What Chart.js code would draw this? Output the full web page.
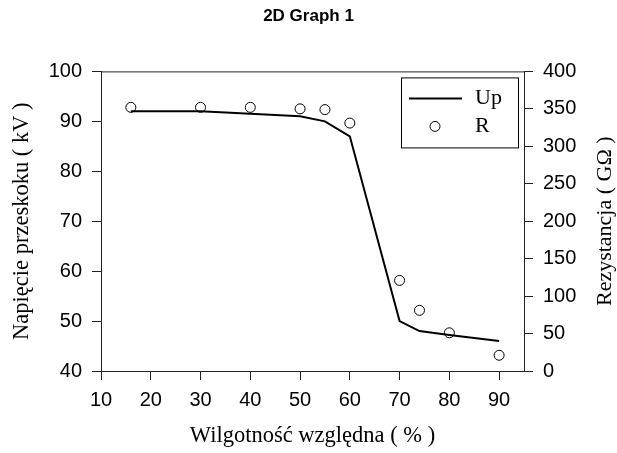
<!DOCTYPE html>
<html>
<head>
<meta charset="utf-8">
<script src="https://cdn.jsdelivr.net/npm/chart.js@4/dist/chart.umd.min.js"></script>
<style>
  html, body { margin: 0; padding: 0; background: #fff; }
  #wrap { width: 617px; height: 453px; }
</style>
</head>
<body>
<div id="wrap"><canvas id="graph"></canvas></div>
<script>
// dane
const wilgotnosc = [16, 30, 40, 50, 55, 60, 70, 74, 80, 90];
const napiecieUp = [92, 92, 91.5, 91, 90, 87, 50, 48, 47.2, 46];
const rezystancjaR = [352, 352, 352, 350, 349, 331, 121, 81, 51, 21];

const xTicks = [10, 20, 30, 40, 50, 60, 70, 80, 90];
const upTicks = [40, 50, 60, 70, 80, 90, 100];
const rTicks = [0, 50, 100, 150, 200, 250, 300, 350, 400];

const tytulPrawy = 'Rezystancja ( GΩ )';

const sans = 'Arial, "Liberation Sans", sans-serif';
const serif = '"Times New Roman", "Liberation Serif", serif';

// ramka u gory, legenda w ramce, tytul prawej osi (czytany od dolu)
const ramka = {
  id: 'ramka',
  afterDraw(chart) {
    const { ctx, chartArea: a } = chart;
    ctx.save();
    ctx.strokeStyle = '#222';
    ctx.lineWidth = 1;
    ctx.beginPath();
    ctx.moveTo(a.left, a.top + 0.5);
    ctx.lineTo(a.right, a.top + 0.5);
    ctx.stroke();

    // legenda
    const bx = a.right - 123, by = a.top + 6, bw = 117, bh = 70;
    ctx.strokeStyle = '#000';
    ctx.strokeRect(bx + 0.5, by + 0.5, bw, bh);
    const ds = chart.data.datasets;
    ctx.font = '22px ' + serif;
    ctx.fillStyle = '#000';
    ctx.textBaseline = 'middle';
    ctx.lineWidth = 2;
    ctx.beginPath();
    ctx.moveTo(bx + 8, by + 21);
    ctx.lineTo(bx + 61, by + 21);
    ctx.stroke();
    ctx.fillText(ds[0].label, bx + 74, by + 21);
    ctx.lineWidth = 1;
    ctx.beginPath();
    ctx.arc(bx + 34, by + 49, 5, 0, Math.PI * 2);
    ctx.fillStyle = '#fff';
    ctx.fill();
    ctx.stroke();
    ctx.fillStyle = '#000';
    ctx.fillText(ds[1].label, bx + 74, by + 49);

    // tytul prawej osi
    ctx.translate(chart.width - 12, (a.top + a.bottom) / 2);
    ctx.rotate(-Math.PI / 2);
    ctx.font = '22px ' + serif;
    ctx.textAlign = 'center';
    ctx.textBaseline = 'middle';
    ctx.fillText(tytulPrawy, 0, 0);
    ctx.restore();
  }
};

function fixedTicks(list) {
  return scale => { scale.ticks = list.map(v => ({ value: v })); };
}

new Chart(document.getElementById('graph').getContext('2d'), {
  type: 'line',
  data: {
    datasets: [{
      label: 'Up',
      data: wilgotnosc.map((x, i) => ({ x: x, y: napiecieUp[i] })),
      yAxisID: 'yUp',
      borderColor: '#000',
      borderWidth: 2,
      pointRadius: 0,
      tension: 0
    }, {
      label: 'R',
      data: wilgotnosc.map((x, i) => ({ x: x, y: rezystancjaR[i] })),
      yAxisID: 'yR',
      showLine: false,
      pointRadius: 5,
      pointBorderWidth: 1,
      pointBorderColor: '#000',
      pointBackgroundColor: '#fff'
    }]
  },
  options: {
    responsive: true,
    maintainAspectRatio: false,
    animation: false,
    layout: { padding: 0 },
    plugins: {
      legend: { display: false },
      tooltip: { enabled: false },
      title: {
        display: true,
        text: '2D Graph 1',
        color: '#000',
        font: { family: sans, size: 17, weight: 'bold' },
        padding: { top: 6, bottom: 45 }
      }
    },
    scales: {
      x: {
        type: 'linear',
        min: 10,
        max: 95,
        afterBuildTicks: fixedTicks(xTicks),
        afterFit: s => { s.height = 82; },
        grid: { drawOnChartArea: false, drawTicks: true, tickLength: 9, color: '#222' },
        border: { color: '#222', width: 1 },
        ticks: { color: '#000', font: { family: sans, size: 20 }, padding: 8, maxRotation: 0 },
        title: { display: true, text: 'Wilgotność względna ( % )', color: '#000', font: { family: serif, size: 22.5 }, padding: { top: 0, bottom: 3 } }
      },
      yUp: {
        type: 'linear',
        position: 'left',
        min: 40,
        max: 100,
        afterBuildTicks: fixedTicks(upTicks),
        afterFit: s => { s.width = 101; },
        grid: { drawOnChartArea: false, drawTicks: true, tickLength: 9, color: '#222' },
        border: { color: '#222', width: 1 },
        ticks: { color: '#000', font: { family: sans, size: 20 }, padding: 10 },
        title: { display: true, text: 'Napięcie przeskoku ( kV )', color: '#000', font: { family: serif, size: 22.5 }, padding: { top: 9, bottom: 0 } }
      },
      yR: {
        type: 'linear',
        position: 'right',
        min: 0,
        max: 400,
        afterBuildTicks: fixedTicks(rTicks),
        afterFit: s => { s.width = 93; },
        grid: { drawOnChartArea: false, drawTicks: true, tickLength: 9, color: '#222' },
        border: { color: '#222', width: 1 },
        ticks: { color: '#000', font: { family: sans, size: 20 }, padding: 10 },
        title: { display: false }
      }
    }
  },
  plugins: [ramka]
});
</script>
</body>
</html>
